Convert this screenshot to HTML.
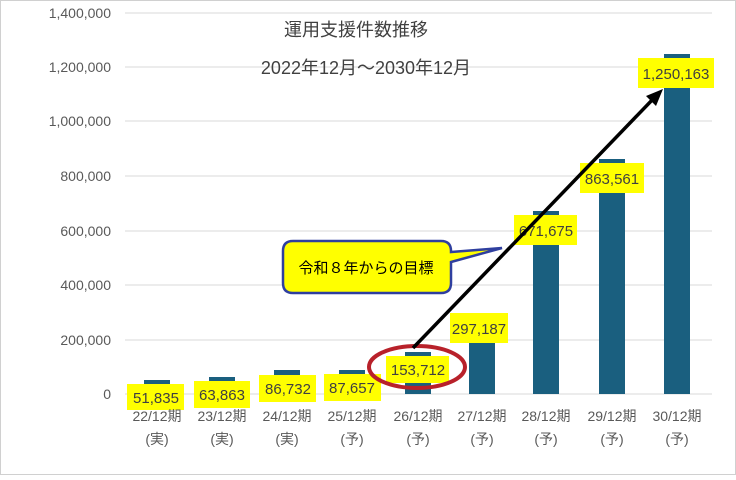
<!DOCTYPE html>
<html><head><meta charset="utf-8"><style>
body{margin:0;background:#fff}
svg text{font-family:"Liberation Sans","Noto Sans CJK JP",sans-serif}
</style></head><body>
<svg width="736" height="475" xmlns="http://www.w3.org/2000/svg">
<rect x="0.5" y="0.5" width="735" height="474" fill="#fff" stroke="#d0d0d0"/>
<g stroke="#d9d9d9" stroke-width="1">
<line x1="125" y1="13" x2="712" y2="13"/><line x1="125" y1="67" x2="712" y2="67"/>
<line x1="125" y1="121" x2="712" y2="121"/><line x1="125" y1="176" x2="712" y2="176"/>
<line x1="125" y1="231" x2="712" y2="231"/><line x1="125" y1="285" x2="712" y2="285"/>
<line x1="125" y1="340" x2="712" y2="340"/><line x1="125" y1="394" x2="712" y2="394"/>
</g>
<g font-size="14" fill="#595959" text-anchor="end">
<text x="111" y="18">1,400,000</text><text x="111" y="72">1,200,000</text>
<text x="111" y="126">1,000,000</text><text x="111" y="181">800,000</text>
<text x="111" y="236">600,000</text><text x="111" y="290">400,000</text>
<text x="111" y="345">200,000</text><text x="111" y="399">0</text>
</g>
<g font-size="18" fill="#404040" text-anchor="middle">
<text x="356" y="36">運用支援件数推移</text>
<text x="366" y="74">2022年12月～2030年12月</text>
</g>
<g fill="#1a5f7f">
<rect x="144" y="380" width="26" height="14"/><rect x="209" y="377" width="26" height="17"/>
<rect x="274" y="370" width="26" height="24"/><rect x="339" y="370" width="26" height="24"/>
<rect x="405" y="352" width="26" height="42"/><rect x="469" y="313" width="26" height="81"/>
<rect x="533" y="211" width="26" height="183"/><rect x="599" y="159" width="26" height="235"/>
<rect x="664" y="54" width="26" height="340"/>
</g>
<g fill="#ffff00">
<rect x="127" y="384" width="57" height="26"/><rect x="194" y="381" width="56" height="27"/>
<rect x="259" y="375" width="57" height="27"/><rect x="324" y="374" width="57" height="27"/>
<rect x="386" y="356" width="63" height="27"/><rect x="450" y="313" width="58" height="30"/>
<rect x="514" y="215" width="63" height="30"/><rect x="580" y="163" width="64" height="30"/>
<rect x="638" y="58" width="76" height="30"/>
</g>
<g font-size="15" fill="#404040" text-anchor="middle">
<text x="156" y="403">51,835</text><text x="222" y="400">63,863</text>
<text x="288" y="394">86,732</text><text x="352" y="393">87,657</text>
<text x="418" y="375">153,712</text><text x="479" y="334">297,187</text>
<text x="546" y="236">671,675</text><text x="612" y="184">863,561</text>
<text x="676" y="79">1,250,163</text>
</g>
<g font-size="14" fill="#595959" text-anchor="middle">
<text x="157" y="421">22/12期</text><text x="222" y="421">23/12期</text><text x="287" y="421">24/12期</text>
<text x="352" y="421">25/12期</text><text x="418" y="421">26/12期</text><text x="482" y="421">27/12期</text>
<text x="546" y="421">28/12期</text><text x="612" y="421">29/12期</text><text x="677" y="421">30/12期</text>
<text x="157" y="444">(実)</text><text x="222" y="444">(実)</text><text x="287" y="444">(実)</text>
<text x="352" y="444">(予)</text><text x="418" y="444">(予)</text><text x="482" y="444">(予)</text>
<text x="546" y="444">(予)</text><text x="612" y="444">(予)</text><text x="677" y="444">(予)</text>
</g>
<ellipse cx="417" cy="367" rx="48" ry="21" fill="none" stroke="#b8212a" stroke-width="4"/>
<line x1="413" y1="348" x2="655" y2="97" stroke="#000" stroke-width="3.5"/>
<polygon points="663,89 646,96 656,106" fill="#000"/>
<path d="M293,241 H441 Q451,241 451,251 V252 L502,248 L451,262 V283 Q451,293 441,293 H293 Q283,293 283,283 V251 Q283,241 293,241 Z" fill="#ffff00" stroke="#2f3f9f" stroke-width="2.5"/>
<text x="366" y="273" font-size="15" fill="#000" text-anchor="middle">令和８年からの目標</text>
</svg>
</body></html>
